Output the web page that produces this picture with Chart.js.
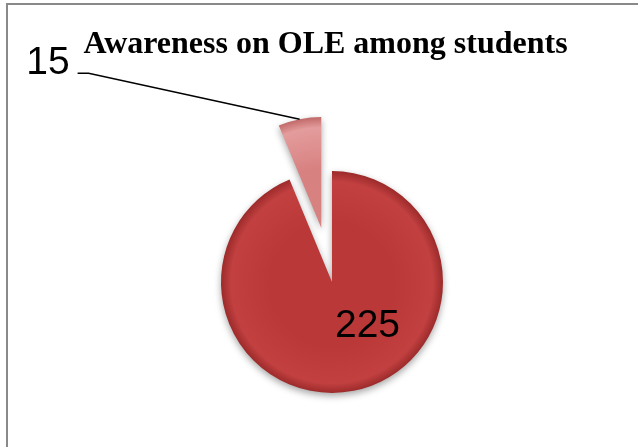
<!DOCTYPE html>
<html>
<head>
<meta charset="utf-8">
<title>Awareness on OLE among students</title>
<script src="https://cdn.jsdelivr.net/npm/chart.js@4.4.1/dist/chart.umd.min.js"></script>
<style>
    html, body { margin: 0; padding: 0; background: #fff; overflow: hidden; }
    #wrap { position: relative; width: 638px; height: 447px; }
    #frame {
        position: absolute; left: 6px; top: 3px; width: 700px; height: 500px;
        border-left: 2px solid #898989; border-top: 2px solid #898989;
        pointer-events: none;
    }
</style>
</head>
<body>
<div id="wrap">
    <canvas id="awareness" width="638" height="447"></canvas>
    <div id="frame"></div>
</div>
<script>
// -----------------------------------------------------------------------
// Data
// -----------------------------------------------------------------------
var categories = ["Aware", "Not aware"];
var values = [225, 15];
var chartTitle = "Awareness on OLE among students";

// styling
var pieRadius = 111;
var explode = [0, 55];
var shades = [
    ["#C24040", "#BB3838", "#982828"],
    ["#E49C9C", "#D88181", "#BD6363"]
];

// pie centre of a slice (after exploding it), from the chart area
function sliceGeom(chart, i) {
    var area = chart.chartArea;
    var total = values.reduce(function (a, b) { return a + b; }, 0);
    var before = values.slice(0, i).reduce(function (a, b) { return a + b; }, 0);
    var mid = -Math.PI / 2 + (before + values[i] / 2) / total * 2 * Math.PI;
    var d = explode[i] || 0;
    return {
        x: (area.left + area.right) / 2 + Math.cos(mid) * d,
        y: (area.top + area.bottom) / 2 + Math.sin(mid) * d,
        r: pieRadius
    };
}

function sliceFill(c) {
    var chart = c.chart;
    var cs = shades[c.dataIndex];
    if (!chart.chartArea) return cs[1];
    var g = sliceGeom(chart, c.dataIndex);
    var grad = chart.ctx.createRadialGradient(g.x, g.y + g.r * 0.05, 0, g.x, g.y, g.r * 1.01);
    grad.addColorStop(0, cs[1]);
    grad.addColorStop(0.55, cs[1]);
    grad.addColorStop(0.9, cs[0]);
    grad.addColorStop(1, cs[2]);
    return grad;
}

// -----------------------------------------------------------------------
// Plugin: exploded slice, shadow, labels, title
// -----------------------------------------------------------------------
var pieDecor = {
    id: "pieDecor",
    afterDatasetsUpdate: function (chart) {
        var meta = chart.getDatasetMeta(0);
        meta.data.forEach(function (arc, i) {
            var d = explode[i] || 0;
            if (!d) return;
            var mid = (arc.startAngle + arc.endAngle) / 2;
            arc.x += Math.cos(mid) * d;
            arc.y += Math.sin(mid) * d;
        });
    },
    beforeDatasetsDraw: function (chart) {
        var ctx = chart.ctx;
        ctx.save();
        ctx.shadowColor = "rgba(0,0,0,0.35)";
        ctx.shadowBlur = 7;
        ctx.shadowOffsetY = 3;
    },
    afterDatasetsDraw: function (chart, args, opts) {
        var ctx = chart.ctx;
        ctx.restore();

        var meta = chart.getDatasetMeta(0);
        ctx.save();
        ctx.fillStyle = "#000";
        ctx.strokeStyle = "#000";
        ctx.font = opts.labelFont;
        ctx.textBaseline = "alphabetic";
        meta.data.forEach(function (arc, i) {
            var lab = opts.labels[i];
            var text = String(values[i]);
            var R = arc.outerRadius;
            if (lab.mode === "inside") {
                ctx.textAlign = "center";
                ctx.fillText(text, arc.x + lab.fx * R, arc.y + lab.fy * R);
            } else {
                var mid = (arc.startAngle + arc.endAngle) / 2;
                var px = arc.x + Math.cos(mid) * R;
                var py = arc.y + Math.sin(mid) * R;
                var ex = px + lab.dx, ey = py + lab.dy;
                ctx.lineWidth = 1.5;
                ctx.beginPath();
                ctx.moveTo(px, py);
                ctx.lineTo(ex, ey);
                ctx.lineTo(ex - lab.run, ey);
                ctx.stroke();
                ctx.textAlign = "right";
                ctx.fillText(text, ex - lab.run - lab.gap, ey + 1);
            }
        });

        // chart title
        ctx.font = opts.titleFont;
        ctx.textAlign = "center";
        ctx.fillText(chartTitle, opts.titleX, opts.titleY);
        ctx.restore();
    }
};

var chart = new Chart(document.getElementById("awareness"), {
    type: "pie",
    data: {
        labels: categories,
        datasets: [{
            data: values,
            backgroundColor: sliceFill,
            borderWidth: 0,
            radius: pieRadius
        }]
    },
    options: {
        responsive: false,
        animation: false,
        devicePixelRatio: 1,
        layout: {
            padding: { left: 26, right: 0, top: 117, bottom: 0 }
        },
        plugins: {
            legend: { display: false },
            title: { display: false },
            tooltip: { enabled: false },
            pieDecor: {
                labelFont: '39px "Liberation Sans", Arial, sans-serif',
                titleFont: 'bold 32px "Liberation Serif", "Times New Roman", serif',
                titleX: 325.5,
                titleY: 53,
                labels: [
                    { mode: "inside", fx: 0.32, fy: 0.495 },
                    { mode: "leader", dx: -211, dy: -46, run: 11, gap: 8 }
                ]
            }
        }
    },
    plugins: [pieDecor]
});
</script>
</body>
</html>
